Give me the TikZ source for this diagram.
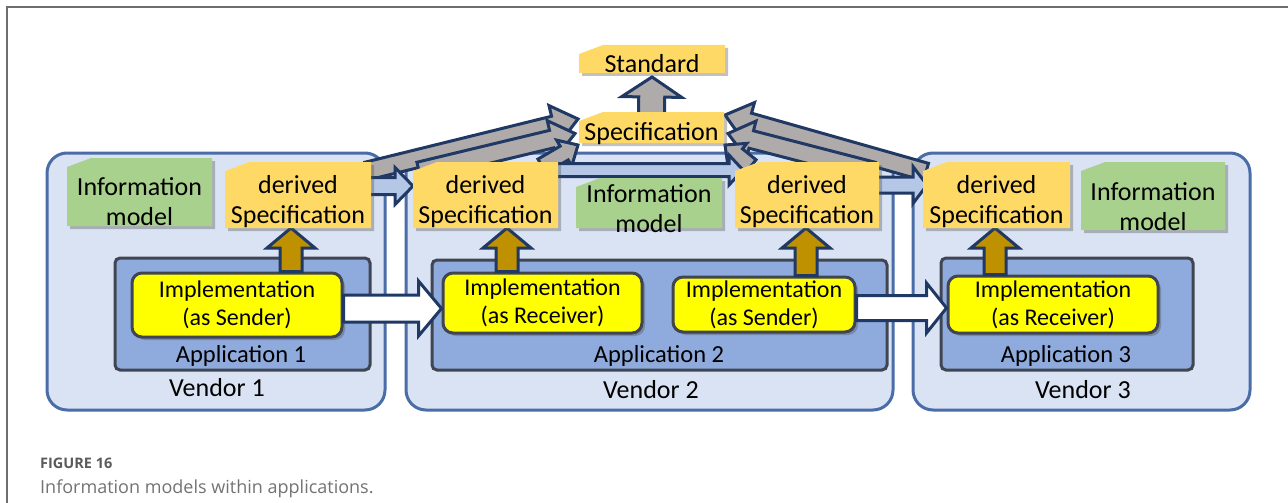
\documentclass[tikz,border=0pt]{standalone}
\usepackage{fontspec}
\setmainfont{Carlito}
\newfontfamily\capfont{Open Sans}
\usetikzlibrary{calc,shadows}

\definecolor{vendorfill}{HTML}{DAE3F3}
\definecolor{vendorline}{HTML}{4A6DA7}
\definecolor{appfill}{HTML}{8FAADC}
\definecolor{appline}{HTML}{404552}
\definecolor{implfill}{HTML}{FFFF00}
\definecolor{specfill}{HTML}{FFD966}
\definecolor{imfill}{HTML}{A9D18E}
\definecolor{arrowline}{HTML}{1F3864}
\definecolor{brownfill}{HTML}{BF9000}
\definecolor{grayfill}{HTML}{AFABAB}
\definecolor{bluefill}{HTML}{B4C7E7}
\definecolor{framegray}{HTML}{6E6E6E}
\definecolor{capdark}{HTML}{5A5A5A}
\definecolor{caplight}{HTML}{727272}

\newcommand\boxfont{\fontsize{26}{30}\selectfont}
\newcommand\implfont{\fontsize{24}{28}\selectfont}
\newcommand\appfont{\fontsize{24.5}{28}\selectfont}

\tikzset{
  snipbase/.style={inner sep=0, outer sep=0},
  noteshadow/.style={drop shadow={shadow xshift=3pt, shadow yshift=-3pt, opacity=.35, fill=black!70}},
  vendor/.style={draw=vendorline, line width=3, fill=vendorfill, rounded corners=20, inner sep=0},
  app/.style={draw=appline, line width=3, fill=appfill, rounded corners=5, inner sep=0},
  impl/.style={draw=appline, line width=3, fill=implfill, rounded corners=10, inner sep=0,
    align=center, font=\implfont, noteshadow},
  vendorlbl/.style={anchor=base, inner sep=0, font=\boxfont},
  applbl/.style={anchor=base, inner sep=0, font=\appfont},
  boxtext/.style={inner sep=0, align=center, font=\boxfont},
  arr/.style={draw=arrowline, line width=3, line join=miter},
  grayarr/.style={arr, fill=grayfill},
  bluearr/.style={arr, fill=bluefill},
  brownarr/.style={arr, fill=brownfill},
  whitearr/.style={arr, fill=white},
}

% block arrow: style, tail, tip, shaft half width, head half width, head length
\newcommand\blockarrow[6]{%
  \draw[#1] let \p1=(#2), \p2=(#3), \n1={atan2(\y2-\y1,\x2-\x1)} in
    ($(\p1)+(\n1+90:#4pt)$) -- ($(\p2)+(\n1+180:#6pt)+(\n1+90:#4pt)$)
    -- ($(\p2)+(\n1+180:#6pt)+(\n1+90:#5pt)$) -- (\p2)
    -- ($(\p2)+(\n1+180:#6pt)+(\n1-90:#5pt)$) -- ($(\p2)+(\n1+180:#6pt)+(\n1-90:#4pt)$)
    -- ($(\p1)+(\n1-90:#4pt)$) -- cycle;}

% note with a cut top left corner: node, colour, text offset, text
\newcommand\snipfill[4]{%
  \fill[#2, noteshadow] ($(#1.north west)+(0,9)$) -- ($(#1.north west)+(24,0)$)
    -- (#1.north east) -- (#1.south east) -- (#1.south west) -- cycle;
  \node[boxtext] (#1-t) at ($(#1.center)+(0,#3)$) {#4};}

\begin{document}
\begin{tikzpicture}[x=1pt,y=-1pt]

	\useasboundingbox (0,0) rectangle (1288,503);
	\draw[framegray, line width=2] (7,503) -- (7,7) -- (1288,7);

	\node[snipbase, minimum width=146, minimum height=66] (ds1) at (298,195) {};
	\node[snipbase, minimum width=145, minimum height=66] (ds2) at (485.5,195) {};
	\node[snipbase, minimum width=144, minimum height=66] (ds3) at (807,195) {};
	\node[snipbase, minimum width=147, minimum height=66] (ds4) at (996.5,195) {};
	\node[snipbase, minimum width=145, minimum height=68] (im1) at (139.5,192) {};
	\node[snipbase, minimum width=146, minimum height=50] (im2) at (649,203) {};
	\node[snipbase, minimum width=144, minimum height=68] (im3) at (1153,196) {};
	\node[snipbase, minimum width=145, minimum height=31] (spec) at (651.5,127.5) {};
	\node[snipbase, minimum width=146, minimum height=28] (std) at (652,59) {};

	\node[vendor, minimum width=338, minimum height=257] (v1) at (216,281.5) {};
	\node[vendor, minimum width=487, minimum height=257] (v2) at (649.5,281.5) {};
	\node[vendor, minimum width=337, minimum height=257] (v3) at (1081.5,281.5) {};
	\node[vendorlbl] (v1-l) at (217,396) {Vendor 1};
	\node[vendorlbl] (v2-l) at (651,398) {Vendor 2};
	\node[vendorlbl] (v3-l) at (1083,398) {Vendor 3};

	\blockarrow{grayarr}{$(ds1.north east)+(-4,9)$}{$(spec.north west)+(-1,7)$}{9}{20}{25}
	\blockarrow{grayarr}{$(ds2.north west)+(6,9)$}{$(spec.west)+(-4,6)$}{9}{19}{24}
	\blockarrow{grayarr}{$(ds2.north east)+(-16,4)$}{$(spec.south west)+(-1,2)$}{8}{15}{16}
	\blockarrow{grayarr}{$(ds4.north west)+(3,10)$}{$(spec.north east)+(1,3)$}{9}{20}{25}
	\blockarrow{grayarr}{$(ds3.north east)+(-6,9)$}{$(spec.east)+(4,6)$}{9}{19}{24}
	\blockarrow{grayarr}{$(ds3.north west)+(16,4)$}{$(spec.south east)+(1,2)$}{8}{15}{16}
	\blockarrow{grayarr}{$(spec.north)+(0,4)$}{$(std.south)+(0,4)$}{13}{30}{20}

	\blockarrow{bluearr}{$(ds1.east)+(-4,-9)$}{$(ds2.west)+(0,-9)$}{8.5}{18.5}{18}
	\blockarrow{bluearr}{$(ds2.north east)+(-4,8)$}{$(ds3.north west)+(8,8)$}{6.5}{15}{14}
	\blockarrow{bluearr}{$(ds3.east)+(-4,-10)$}{$(ds4.west)+(4,-10)$}{8}{18.5}{14}

	\node[app, minimum width=255, minimum height=112] (a1) at (242.5,314) {};
	\node[app, minimum width=455, minimum height=110] (a2) at (659.5,315) {};
	\node[app, minimum width=252, minimum height=112] (a3) at (1067,314) {};
	\node[applbl] (a1-l) at (241,362) {Application 1};
	\node[applbl] (a2-l) at (659,362) {Application 2};
	\node[applbl] (a3-l) at (1066,362) {Application 3};

	\node[impl, minimum width=210, minimum height=64] (i1) at (237,305) {Implementation\\(as Sender)};
	\node[impl, minimum width=199, minimum height=60] (i2) at (542.5,303) {Implementation\\(as Receiver)};
	\node[impl, minimum width=182, minimum height=55] (i3) at (764,304.5) {Implementation\\(as Sender)};
	\node[impl, minimum width=210, minimum height=57] (i4) at (1053,304.5) {Implementation\\(as Receiver)};

	\coordinate (b1) at ($(ds1.south)+(-7,0)$);
	\coordinate (b2) at ($(ds2.south)+(21.5,0)$);
	\coordinate (b3) at ($(ds3.south)+(-1,0)$);
	\coordinate (b4) at ($(ds4.south)+(-1.5,0)$);
	\blockarrow{brownarr}{b1 |- i1.north}{b1}{11}{24}{20}
	\blockarrow{brownarr}{b2 |- i2.north}{b2}{11}{24}{20}
	\blockarrow{brownarr}{b3 |- i3.north}{b3}{11}{24}{20}
	\blockarrow{brownarr}{b4 |- i4.north}{b4}{11}{24}{20}

	\coordinate (w1) at ($(i1.east)+(0,3.5)$);
	\coordinate (w2) at ($(i3.east)+(0,3.5)$);
	\blockarrow{whitearr}{w1}{w1 -| i2.west}{13.5}{27.5}{23}
	\blockarrow{whitearr}{w2}{w2 -| i4.west}{12.5}{25}{20}

	\snipfill{ds1}{specfill}{7}{derived\\Specification}
	\snipfill{ds2}{specfill}{7}{derived\\Specification}
	\snipfill{ds3}{specfill}{7}{derived\\Specification}
	\snipfill{ds4}{specfill}{7}{derived\\Specification}
	\snipfill{im1}{imfill}{10}{Information\\model}
	\snipfill{im2}{imfill}{6}{Information\\model}
	\snipfill{im3}{imfill}{11}{Information\\model}
	\snipfill{spec}{specfill}{6.5}{Specification}
	\snipfill{std}{specfill}{5}{Standard}

%	caption
	\node[anchor=base west, inner sep=0, text=capdark, font={\capfont\bfseries\fontsize{14.5}{17}\selectfont}] (fig) at (40,468) {FIGURE 16};
	\node[anchor=base west, inner sep=0, text=caplight, font={\capfont\fontsize{18}{22}\selectfont}] (cap) at (40,493) {Information models within applications.};

\end{tikzpicture}
\end{document}
